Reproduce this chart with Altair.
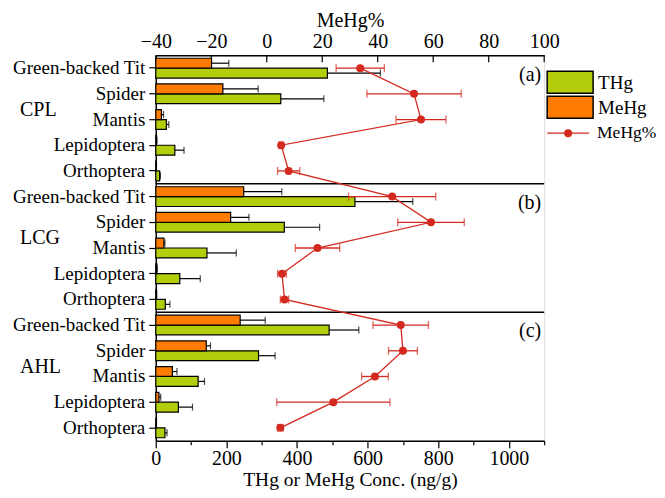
import altair as alt
import pandas as pd

panels = ["a", "b", "c"]
sites = ["CPL", "LCG", "AHL"]
categories = ["Green-backed Tit", "Spider", "Mantis", "Lepidoptera", "Orthoptera"]

# THg (ng/g) mean and SD
thg_a = [486, 354, 30, 54, 11]
thg_a_sd = [150, 122, 7, 26, 2]
thg_b = [564, 364, 145, 68, 27]
thg_b_sd = [164, 100, 83, 58, 13]
thg_c = [491, 291, 120, 64, 26]
thg_c_sd = [84, 47, 18, 40, 6]

# MeHg (ng/g) mean and SD
mehg_a = [158, 190, 16, 2, 1]
mehg_a_sd = [49, 100, 6, 1.5, 0.5]
mehg_b = [249, 212, 23, 3, 2]
mehg_b_sd = [108, 52, 3, 1, 0.5]
mehg_c = [239, 143, 47, 9, 1.5]
mehg_c_sd = [71, 12, 13, 5, 0.5]

# MeHg% mean and SD
pct_a = [33.7, 53.1, 55.6, 5.2, 7.9]
pct_a_sd = [8.7, 17.0, 9.0, 0.8, 4.0]
pct_b = [45.2, 59.2, 18.3, 5.5, 6.4]
pct_b_sd = [15.7, 12.0, 8.0, 1.6, 1.5]
pct_c = [48.3, 49.1, 39.0, 24.0, 4.9]
pct_c_sd = [10.0, 5.2, 4.8, 20.4, 1.0]

bottom_ticks = [0, 100, 200, 300, 400, 500, 600, 700, 800, 900, 1000, 1100]
top_ticks = [-40, -20, 0, 20, 40, 60, 80, 100]

legend_series = ["THg", "MeHg"]
legend_line_label = "MeHg%"

GREEN = "#b4cd0a"
ORANGE = "#ff7c00"
RED = "#d4291f"
FONT = "Liberation Serif"

W, H = 389, 386

thg = {"a": (thg_a, thg_a_sd), "b": (thg_b, thg_b_sd), "c": (thg_c, thg_c_sd)}
mehg = {"a": (mehg_a, mehg_a_sd), "b": (mehg_b, mehg_b_sd), "c": (mehg_c, mehg_c_sd)}
pct = {"a": (pct_a, pct_a_sd), "b": (pct_b, pct_b_sd), "c": (pct_c, pct_c_sd)}

keys = [f"{p}|{c}" for p in panels for c in categories]

bar_rows, pct_rows = [], []
idx = 0
for p in panels:
    for i, c in enumerate(categories):
        k = f"{p}|{c}"
        for s, src in (("THg", thg), ("MeHg", mehg)):
            m, sd = src[p][0][i], src[p][1][i]
            bar_rows.append({"key": k, "series": s, "value": m, "hi": m + sd})
        m, sd = pct[p][0][i], pct[p][1][i]
        pct_rows.append({"key": k, "pct": m, "lo": m - sd, "hi": m + sd, "idx": idx})
        idx += 1
df_bar = pd.DataFrame(bar_rows)
df_pct = pd.DataFrame(pct_rows)

y_scale = alt.Scale(domain=keys, paddingInner=0, paddingOuter=0)
y_axis = alt.Axis(title=None, labelExpr="split(datum.value, '|')[1]", labelFont=FONT,
                  labelFontSize=19, labelColor="black", tickColor="black", tickSize=7,
                  tickWidth=1.2, domainColor="black", domainWidth=1.5, labelPadding=4,
                  grid=False)


def Y(bp=None):
    if bp is None:
        return alt.Y("key:N", scale=y_scale, axis=y_axis)
    return alt.Y("key:N", scale=y_scale, axis=y_axis, bandPosition=bp)


yoff = alt.YOffset("series:N", scale=alt.Scale(domain=["MeHg", "THg"], paddingOuter=0.3, paddingInner=0))
color_scale = alt.Scale(domain=legend_series, range=[GREEN, ORANGE])

x_bottom_scale = alt.Scale(domain=[0, 1100], nice=False, zero=True)
x_bottom_axis = alt.Axis(orient="bottom", title="THg or MeHg Conc. (ng/g)", values=bottom_ticks,
                         format="d",
                         labelExpr="datum.value % 200 === 0 ? datum.label : ''",
                         tickSize={"condition": {"test": "datum.value % 200 === 0", "value": 7}, "value": 4},
                         tickColor="black", tickWidth=1.2, domainColor="black", domainWidth=1.5,
                         labelFont=FONT, labelFontSize=20, labelColor="black", titleFont=FONT,
                         titleFontSize=19.5, titleFontWeight="normal", titleColor="black",
                         labelPadding=1, titlePadding=2, grid=False, labelFlush=False)


def XB(field):
    return alt.X(field, type="quantitative", scale=x_bottom_scale, axis=x_bottom_axis)


x_top_scale = alt.Scale(domain=[-40, 100], nice=False, zero=False)
x_top_axis = alt.Axis(orient="top", title="MeHg%", values=top_ticks, ticks=False,
                      domainColor="black", domainWidth=1.5, labelFont=FONT, labelFontSize=20,
                      labelColor="black", titleFont=FONT, titleFontSize=20,
                      titleFontWeight="normal", titleColor="black", labelPadding=4,
                      titlePadding=1, grid=False, labelFlush=False)


def XT(field):
    return alt.X(field, type="quantitative", scale=x_top_scale, axis=x_top_axis)


base_bar = alt.Chart(df_bar)
bars = base_bar.mark_bar(stroke="black", strokeWidth=1.2).encode(
    x=XB("value"), y=Y(), yOffset=yoff,
    color=alt.Color("series:N", scale=color_scale, legend=None))
bar_err = base_bar.mark_rule(color="black", strokeWidth=1.2).encode(
    x=XB("value"), x2="hi:Q", y=Y(), yOffset=yoff)
bar_cap = base_bar.mark_tick(color="black", thickness=1.2, size=7, orient="vertical").encode(
    x=XB("hi"), y=Y(), yOffset=yoff)

df_sep = pd.DataFrame({"key": [f"{p}|{categories[0]}" for p in panels[1:]]})
sep = alt.Chart(df_sep).mark_rule(color="black", strokeWidth=1.5).encode(
    y=Y(0), x=alt.value(0), x2=alt.value(W))

df_site = pd.DataFrame({"key": [f"{p}|{categories[1]}" for p in panels], "site": sites})
site_txt = alt.Chart(df_site).mark_text(font=FONT, fontSize=20, align="left", baseline="middle",
                                        dy=3, color="black").encode(
    y=Y(1), x=alt.value(-136), text="site:N")

df_plab = pd.DataFrame({"key": [f"{p}|{categories[0]}" for p in panels],
                        "lab": [f"({p})" for p in panels]})
plab = alt.Chart(df_plab).mark_text(font=FONT, fontSize=20, align="right", baseline="middle",
                                    color="black").encode(
    y=Y(0.75), x=alt.value(W - 3), text="lab:N")

# manual legend
leg_items = []
for i, s in enumerate(legend_series):
    d = pd.DataFrame({"series": [s]})
    leg_items.append(alt.Chart(d).mark_rect(stroke="black", strokeWidth=1.5).encode(
        x=alt.value(392), x2=alt.value(438), y=alt.value(16 + 25 * i), y2=alt.value(38 + 25 * i),
        fill=alt.Color("series:N", scale=color_scale, legend=None)))
    leg_items.append(alt.Chart(d).mark_text(font=FONT, fontSize=19, align="left", baseline="middle",
                                            color="black").encode(
        x=alt.value(443), y=alt.value(28 + 25 * i), text="series:N"))
dl = pd.DataFrame({"lab": [legend_line_label]})
leg_items.append(alt.Chart(dl).mark_rule(color=RED, strokeWidth=1.3).encode(
    x=alt.value(392), x2=alt.value(434), y=alt.value(78)))
leg_items.append(alt.Chart(dl).mark_circle(color=RED, size=64, opacity=1).encode(
    x=alt.value(413), y=alt.value(78)))
leg_items.append(alt.Chart(dl).mark_text(font=FONT, fontSize=17.5, align="left", baseline="middle",
                                         color="black").encode(
    x=alt.value(442), y=alt.value(78), text="lab:N"))

bottom_group = alt.layer(bars, bar_err, bar_cap, sep, site_txt, plab, *leg_items)

base_pct = alt.Chart(df_pct)
pline = base_pct.mark_line(color=RED, strokeWidth=1.3).encode(
    x=XT("pct"), y=Y(), order="idx:Q")
perr = base_pct.mark_rule(color=RED, strokeWidth=1.3).encode(
    x=XT("lo"), x2="hi:Q", y=Y())
pcap = base_pct.transform_fold(["lo", "hi"], as_=["side", "xc"]).mark_tick(
    color=RED, thickness=1.3, size=8, orient="vertical").encode(x=XT("xc"), y=Y())
ppts = base_pct.mark_circle(color=RED, size=64, opacity=1).encode(x=XT("pct"), y=Y())
top_group = alt.layer(pline, perr, pcap, ppts)

df_tt = pd.DataFrame({"t": top_ticks})
top_tick_marks = alt.Chart(df_tt).mark_rule(color="black", strokeWidth=1.2).encode(
    x=alt.X("t:Q", scale=x_top_scale, axis=None), y=alt.value(0), y2=alt.value(7))

chart = alt.layer(top_tick_marks, bottom_group, top_group).resolve_scale(
    x="independent").properties(
    width=W, height=H, padding={"left": 4, "top": 2, "right": 0, "bottom": 0}).configure_view(
    stroke="black", strokeWidth=1.5).configure(background="white")

chart.save("out.html", embed_options={"renderer": "svg", "actions": False})
